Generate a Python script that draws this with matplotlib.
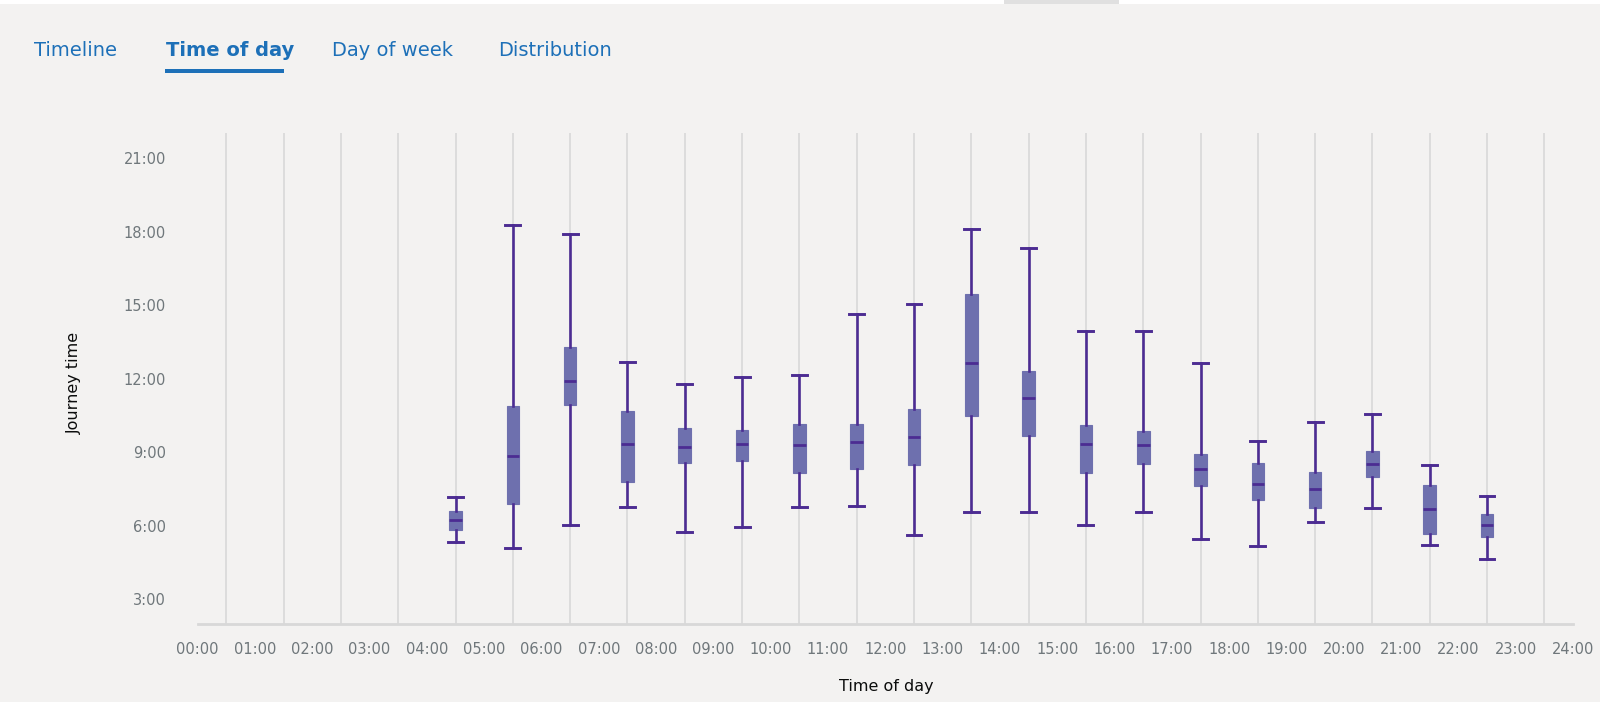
import matplotlib
matplotlib.use("Agg")
import matplotlib.pyplot as plt
from matplotlib.patches import Rectangle

# Journey time (minutes) per hour of departure
hours = [4, 5, 6, 7, 8, 9, 10, 11, 12, 13, 14, 15, 16, 17, 18, 19, 20, 21, 22]
whisker_low = [5.35, 5.08, 6.03, 6.76, 5.77, 5.97, 6.77, 6.83, 5.62, 6.57,
               6.57, 6.05, 6.57, 5.47, 5.20, 6.15, 6.71, 5.23, 4.66]
q1 = [5.85, 6.91, 10.94, 7.78, 8.57, 8.66, 8.14, 8.33, 8.50, 10.49,
      9.66, 8.16, 8.52, 7.61, 7.07, 6.73, 8.00, 5.67, 5.55]
median = [6.23, 8.86, 11.92, 9.34, 9.23, 9.35, 9.30, 9.40, 9.62, 12.65,
          11.22, 9.32, 9.30, 8.33, 7.71, 7.51, 8.52, 6.69, 6.04]
q3 = [6.60, 10.87, 13.31, 10.70, 9.99, 9.91, 10.15, 10.15, 10.76, 15.46,
      12.32, 10.10, 9.88, 8.94, 8.55, 8.18, 9.04, 7.67, 6.50]
whisker_high = [7.17, 18.27, 17.90, 12.68, 11.78, 12.07, 12.17, 14.65, 15.04, 18.09,
                17.32, 13.93, 13.93, 12.66, 9.47, 10.22, 10.57, 8.50, 7.21]

y_ticks = [3, 6, 9, 12, 15, 18, 21]
tabs = ["Timeline", "Time of day", "Day of week", "Distribution"]

BG = "#f3f2f1"
BLUE = "#1d70b8"
PURPLE = "#4c2c92"
BOXFILL = "#6e70ae"
GRID = "#d8d8d8"
TICKGREY = "#6f777b"

W, H = 1600, 702
fig = plt.figure(figsize=(W / 100, H / 100), dpi=100, facecolor=BG)

# white strip at the very top (cropped page header)
fig.patches.append(Rectangle((0, 1 - 4 / H), 1, 4 / H, transform=fig.transFigure,
                             facecolor="white", edgecolor="none", zorder=0))
fig.patches.append(Rectangle((1004 / W, 1 - 4 / H), 115 / W, 4 / H, transform=fig.transFigure,
                             facecolor="#e0e0e0", edgecolor="none", zorder=1))

# axes: x 0..24 h maps to 197.7..1573 px, y 2..22 min maps to 624..133 px
left, right = 197.7, 1573
bottom, top = 624, 133.4
ax = fig.add_axes([left / W, 1 - bottom / H, (right - left) / W, (bottom - top) / H])
ax.set_facecolor(BG)

stats = []
for i in range(len(hours)):
    stats.append({
        "whislo": whisker_low[i], "q1": q1[i], "med": median[i],
        "q3": q3[i], "whishi": whisker_high[i], "fliers": [],
    })

positions = [h + 0.5 for h in hours]
ax.bxp(stats, positions=positions, widths=0.22, capwidths=0.26,
       patch_artist=True, showfliers=False, manage_ticks=False,
       boxprops=dict(facecolor=BOXFILL, edgecolor=BOXFILL, linewidth=0.8),
       whiskerprops=dict(color=PURPLE, linewidth=1.9),
       capprops=dict(color=PURPLE, linewidth=2.1),
       medianprops=dict(color=PURPLE, linewidth=2.0))

# vertical grid lines between hour labels
for h in range(24):
    ax.axvline(h + 0.5, color=GRID, linewidth=1.2, zorder=0)

ax.set_xlim(0, 24)
ax.set_ylim(2, 22)

for s in ["left", "right", "top"]:
    ax.spines[s].set_visible(False)
ax.spines["bottom"].set_color(GRID)
ax.spines["bottom"].set_linewidth(2)

ax.set_xticks(range(25))
ax.set_xticklabels([f"{h:02d}:00" for h in range(25)])
ax.set_yticks(y_ticks)
ax.set_yticklabels([f"{m}:00" for m in y_ticks])
ax.tick_params(axis="x", length=0, pad=13, labelsize=10.5, labelcolor=TICKGREY)
ax.tick_params(axis="y", length=0, pad=23, labelsize=10.5, labelcolor=TICKGREY)

fig.text(74 / W, 1 - 383 / H, "Journey time", rotation=90, ha="center", va="center",
         fontsize=11.5, color="#0b0c0c")
fig.text(886 / W, 1 - 687 / H, "Time of day", ha="center", va="center",
         fontsize=11.5, color="#0b0c0c")

# tab row
tab_x = [34, 166, 332, 498]
for i, t in enumerate(tabs):
    fig.text(tab_x[i] / W, 1 - 51 / H, t, ha="left", va="center", fontsize=14,
             color=BLUE, fontweight="bold" if i == 1 else "normal")
fig.patches.append(Rectangle((165 / W, 1 - 73 / H), 119 / W, 4 / H, transform=fig.transFigure,
                             facecolor=BLUE, edgecolor="none"))

fig.savefig("out.png", dpi=100, facecolor=BG)
